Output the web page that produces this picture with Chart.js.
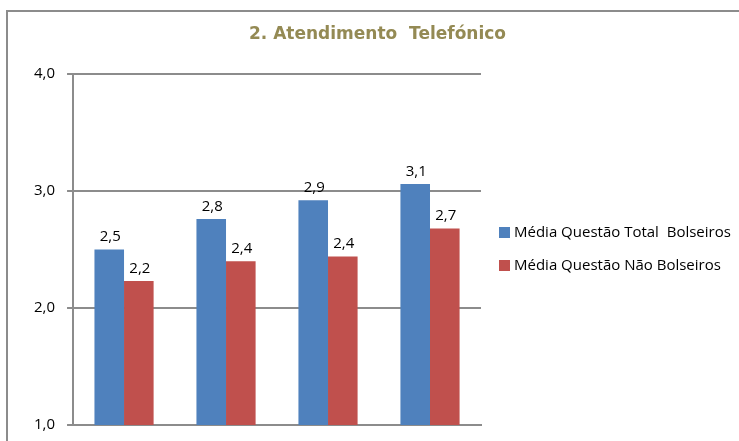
<!DOCTYPE html>
<html>
<head>
<meta charset="utf-8">
<script src="https://cdn.jsdelivr.net/npm/chart.js@4"></script>
<style>
  body { margin: 0; background: #ffffff; }
  #wrap { position: relative; width: 739px; height: 441px; overflow: hidden; }
  #frame { position: absolute; left: 6px; top: 10px; width: 760px; height: 460px; border: 2px solid #8c8c8c; }
  canvas { position: absolute; left: 0; top: 0; }
</style>
</head>
<body>
<div id="wrap">
  <div id="frame"></div>
  <canvas id="mychart" width="739" height="441"></canvas>
</div>
<script>
const categories = ['1', '2', '3', '4'];
const totalBolseiros = [2.5, 2.76, 2.92, 3.06];
const naoBolseiros = [2.23, 2.4, 2.44, 2.68];
const yTicks = [1, 2, 3, 4];
const chartTitle = '2. Atendimento  Telefónico';

// draws the value above each bar, Excel style
const valueLabels = {
    id: 'valueLabels',
    afterDatasetsDraw(chart) {
        const c = chart.ctx;
        c.save();
        c.font = '15px "Open Sans"';
        c.fillStyle = '#000000';
        c.textAlign = 'center';
        c.textBaseline = 'bottom';
        chart.data.datasets.forEach((ds, i) => {
            chart.getDatasetMeta(i).data.forEach((bar, j) => {
                const txt = ds.data[j].toFixed(1).replace('.', ',');
                c.fillText(txt, bar.x + 1, bar.y - 5);
            });
        });
        c.restore();
    }
};

// legend on the right and the title centred on the whole frame
const sideLegend = {
    id: 'sideLegend',
    afterDraw(chart) {
        const c = chart.ctx;
        const area = chart.chartArea;
        c.save();
        c.font = 'bold 17px "DejaVu Sans"';
        c.fillStyle = '#948a54';
        c.textAlign = 'center';
        c.textBaseline = 'middle';
        c.fillText(chartTitle, (chart.width + 16) / 2, 35);

        const x = area.right + 18;
        const midY = (area.top + area.bottom) / 2;
        const gap = 33;
        const items = chart.data.datasets;
        c.font = '15px "Open Sans"';
        c.textAlign = 'left';
        items.forEach((ds, i) => {
            const y = midY + (i - (items.length - 1) / 2) * gap;
            c.fillStyle = ds.backgroundColor;
            c.fillRect(x, y - 6, 11, 11);
            c.fillStyle = '#000000';
            c.fillText(ds.label, x + 15, y);
        });
        c.restore();
    }
};

function draw() {
const ctx = document.getElementById('mychart');
var chart = new Chart(ctx, {
    type: 'bar',
    data: {
        labels: categories,
        datasets: [
            {
                label: 'Média Questão Total  Bolseiros',
                data: totalBolseiros,
                backgroundColor: '#4f81bd',
            },
            {
                label: 'Média Questão Não Bolseiros',
                data: naoBolseiros,
                backgroundColor: '#c0504d',
            },
        ],
    },
    options: {
        responsive: false,
        animation: false,
        layout: {
            padding: {
                top: 74,
                left: 22,
                right: 258,
                bottom: 0,
            },
        },
        datasets: {
            bar: {
                categoryPercentage: 0.58,
                barPercentage: 1,
            },
        },
        scales: {
            x: {
                grid: {
                    display: false,
                },
                border: {
                    color: '#8c8c8c',
                    width: 2,
                },
                ticks: {
                    display: false,
                },
                afterFit: (axis) => {
                    axis.height = 16;
                },
            },
            y: {
                min: 1,
                max: 4,
                afterBuildTicks: (axis) => {
                    axis.ticks = yTicks.map(v => ({ value: v }));
                },
                afterFit: (axis) => {
                    axis.paddingBottom = 0;
                    axis.paddingTop = 0;
                },
                grid: {
                    color: '#8c8c8c',
                    lineWidth: 2,
                    tickLength: 6,
                },
                border: {
                    color: '#8c8c8c',
                    width: 2,
                },
                ticks: {
                    padding: 12,
                    color: '#000000',
                    font: {
                        family: '"Open Sans"',
                        size: 15,
                    },
                    callback: (v) => v.toFixed(1).replace('.', ','),
                },
            },
        },
        plugins: {
            legend: {
                display: false,
            },
            tooltip: {
                enabled: false,
            },
        },
    },
    plugins: [valueLabels, sideLegend],
});
}

Promise.all([
    document.fonts.load('15px "Open Sans"'),
    document.fonts.load('bold 17px "DejaVu Sans"'),
]).then(draw, draw);
</script>
</body>
</html>
